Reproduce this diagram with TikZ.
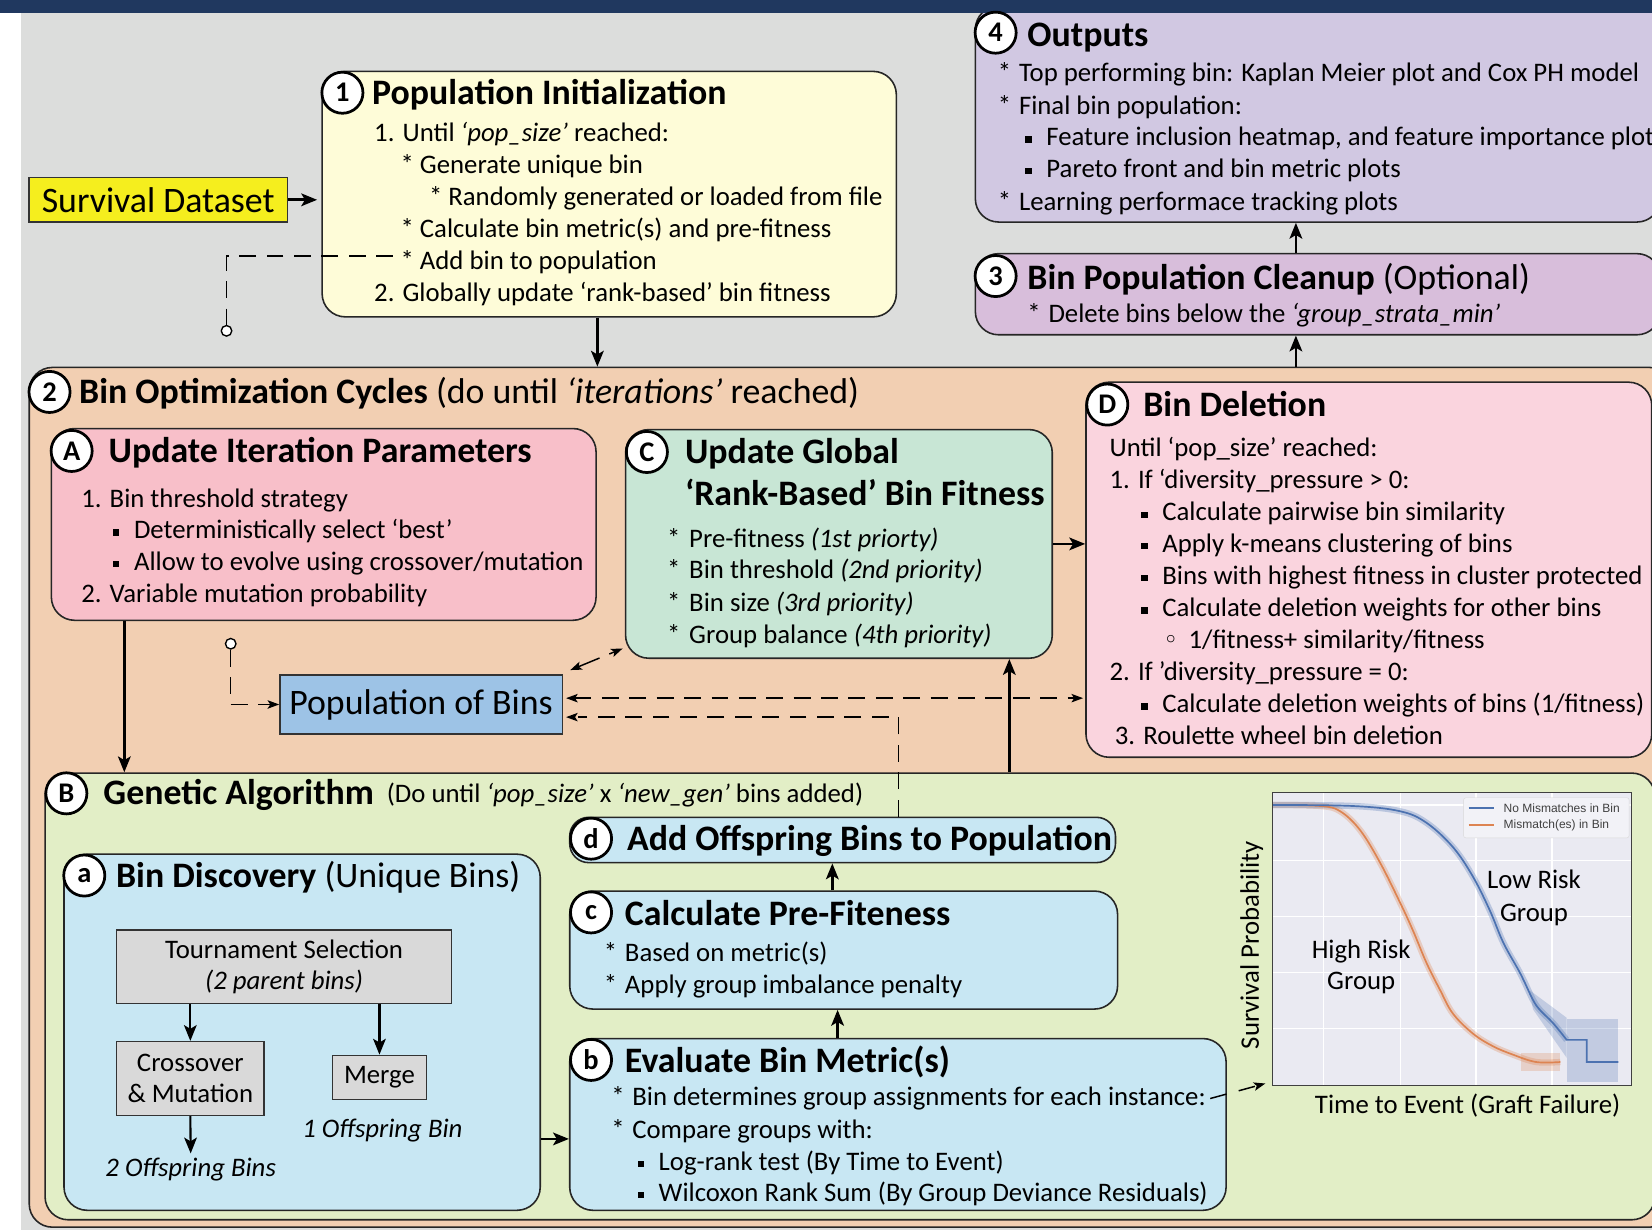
\documentclass[tikz,border=0pt]{standalone}
\usepackage{fontspec}
\setmainfont{Carlito}
\newfontfamily\legfont{Liberation Sans}
\newfontfamily\djv{DejaVu Sans}
\usetikzlibrary{arrows.meta,calc}
\definecolor{bggray}{HTML}{DCDDDC}
\definecolor{navybar}{HTML}{20385F}
\definecolor{sdyellow}{HTML}{F5EE1E}
\definecolor{pinit}{HTML}{FEFCD8}
\definecolor{peach}{HTML}{F2CFB2}
\definecolor{pinkA}{HTML}{F8BFC9}
\definecolor{mintC}{HTML}{C8E6D5}
\definecolor{pinkD}{HTML}{FAD4DE}
\definecolor{pobblue}{HTML}{9DC3E6}
\definecolor{gagreen}{HTML}{E2EEC6}
\definecolor{lblue}{HTML}{C8E7F3}
\definecolor{graybox}{HTML}{D9D9D9}
\definecolor{lavthree}{HTML}{D8BEDB}
\definecolor{lavfour}{HTML}{D1C8E2}
\definecolor{plotbg}{HTML}{EAEAF2}
\definecolor{kmblue}{HTML}{4C72B0}
\definecolor{kmorange}{HTML}{DD8452}
\newcommand\sqb{\makebox[20pt][l]{\raisebox{3pt}{\rule{6pt}{6pt}}}}
\newcommand\stb{\makebox[20pt][l]{*}}
\begin{document}
\begin{tikzpicture}[x=1pt,y=-1pt,
  box/.style={draw=black!85, line width=1.5pt, rounded corners=22pt, anchor=north west, inner sep=0pt},
  sqbox/.style={draw=black!80, line width=1.3pt, anchor=north west, inner sep=0pt},
  num/.style={circle, draw=black, fill=white, line width=2.6pt, minimum size=39pt, inner sep=0pt, font=\fontsize{27}{27}\selectfont\bfseries},
  txt/.style={anchor=base west, inner sep=0pt, yshift=-8.5pt, font=\fontsize{25.4}{30}\selectfont},
  ttl/.style={anchor=base west, inner sep=0pt, yshift=-11pt, font=\fontsize{34}{38}\selectfont},
  ctxt/.style={anchor=base, inner sep=0pt, yshift=-8.5pt, font=\fontsize{25.4}{30}\selectfont},
  arr/.style={-{Stealth[length=15pt,width=12pt,inset=3.5pt]}, line width=2.6pt},
  darr/.style={-{Stealth[length=11pt,width=8pt,inset=2.5pt]}, line width=1.4pt, dash pattern=on 16pt off 10pt},
  dline/.style={line width=1.4pt, dash pattern=on 16pt off 10pt},
  knob/.style={circle, draw=black, fill=white, line width=1.3pt, minimum size=10pt, inner sep=0pt}
]
\useasboundingbox (0,0) rectangle (1568,1167);
\clip (0,0) rectangle (1568,1167);
\fill[white] (0,0) rectangle (1568,1167);
\fill[bggray] (20,0) rectangle (1568,1167);

% x/y helper coordinates
\coordinate (x118) at (118,0);
\coordinate (x567) at (567,0);
\coordinate (x790) at (790,0);
\coordinate (x795) at (795,0);
\coordinate (x853) at (853,0);
\coordinate (x958) at (958,0);
\coordinate (x1230) at (1230,0);
\coordinate (y1081) at (0,1081);

% ---------- Outputs (4) and cleanup (3)
\node[box, fill=lavfour, minimum width=650pt, minimum height=205pt] (bx4) at (925,5) {};
\node[box, fill=lavthree, minimum width=650pt, minimum height=77pt] (bx3) at (925,240) {};
\fill[navybar] (0,0) rectangle (1568,12);
\node[num] (n4) at (945,31) {4};
\node[ttl] (t4) at (975,33) {\textbf{Outputs}};
\node[txt] (o1) at (947,69) {\stb Top performing bin: Kaplan Meier plot and Cox PH model};
\node[txt] (o2) at (947,100) {\stb Final bin population:};
\node[txt] (o3) at (973,130) {\sqb Feature inclusion heatmap, and feature importance plot};
\node[txt] (o4) at (973,160) {\sqb Pareto front and bin metric plots};
\node[txt] (o5) at (947,191) {\stb Learning performace tracking plots};
\node[num] (n3) at (945,262) {3};
\node[ttl] (t3) at (975,264) {\textbf{Bin Population Cleanup} (Optional)};
\node[txt] (c1) at (975,298) {\stb Delete bins below the \textit{‘group\_strata\_min’}};

% ---------- Survival dataset & population initialization
\node[sqbox, fill=sdyellow, minimum width=245pt, minimum height=42pt, font=\fontsize{34}{38}\selectfont] (sd) at (27,168) {Survival Dataset};
\node[box, fill=pinit, minimum width=545pt, minimum height=233pt] (p1) at (305,67) {};
\node[num] (n1) at (325,88) {1};
\node[ttl] (t1) at (353,88) {\textbf{Population Initialization}};
\node[txt] (p1a) at (355,126) {1. Until \textit{‘pop\_size’} reached:};
\node[txt] (p1b) at (380,156) {* Generate unique bin};
\node[txt] (p1c) at (407,187) {* Randomly generated or loaded from file};
\node[txt] (p1d) at (380,217) {* Calculate bin metric(s) and pre-fitness};
\node[txt] (p1e) at (380,247) {* Add bin to population};
\node[txt] (p1f) at (355,278) {2. Globally update ‘rank-based’ bin fitness};
\coordinate (d1s) at (373,243);
\node[knob] (knobA) at (215,314) {};

% ---------- Box 2
\node[box, fill=peach, minimum width=1560pt, minimum height=816pt] (bx2) at (27,348) {};
\node[num] (n2) at (47,372) {2};
\node[ttl] (t2) at (75,372) {\textbf{Bin Optimization Cycles} (do until \textit{‘iterations’} reached)};

% Box A
\node[box, fill=pinkA, minimum width=517pt, minimum height=182pt] (bA) at (48,406) {};
\node[num] (nA) at (68,428) {A};
\node[ttl] (tA) at (103,428) {\textbf{Update Iteration Parameters}};
\node[txt] (a1) at (77,473) {1. Bin threshold strategy};
\node[txt] (a2) at (107,503) {\sqb Deterministically select ‘best’};
\node[txt] (a3) at (107,533) {\sqb Allow to evolve using crossover/mutation};
\node[txt] (a4) at (77,563) {2. Variable mutation probability};

% Box C
\node[box, fill=mintC, minimum width=405pt, minimum height=217pt] (bC) at (593,407) {};
\node[num] (nC) at (614,429) {C};
\node[ttl] (tC1) at (650,429) {\textbf{Update Global}};
\node[ttl] (tC2) at (650,469) {\textbf{‘Rank-Based’ Bin Fitness}};
\node[txt] (cc1) at (633,511) {\makebox[21pt][l]{*}Pre-fitness \textit{(1st priorty)}};
\node[txt] (cc2) at (633,541) {\makebox[21pt][l]{*}Bin threshold \textit{(2nd priority)}};
\node[txt] (cc3) at (633,572) {\makebox[21pt][l]{*}Bin size \textit{(3rd priority)}};
\node[txt] (cc4) at (633,602) {\makebox[21pt][l]{*}Group balance \textit{(4th priority)}};

% Box D
\node[box, fill=pinkD, minimum width=537pt, minimum height=356pt] (bD) at (1030,362) {};
\node[num] (nD) at (1051,384) {D};
\node[ttl] (tD) at (1085,384) {\textbf{Bin Deletion}};
\node[txt] (d1) at (1053,425) {Until ‘pop\_size’ reached:};
\node[txt] (d2) at (1053,455) {1. If ‘diversity\_pressure > 0:};
\node[txt] (d3) at (1083,486) {\sqb Calculate pairwise bin similarity};
\node[txt] (d4) at (1083,516) {\sqb Apply k-means clustering of bins};
\node[txt] (d5) at (1083,546) {\sqb Bins with highest fitness in cluster protected};
\node[txt] (d6) at (1083,577) {\sqb Calculate deletion weights for other bins};
\node[txt] (d7) at (1104,607) {\makebox[24pt][l]{{\djv\fontsize{24}{24}\selectfont ◦}}1/fitness+ similarity/fitness};
\node[txt] (d8) at (1053,637) {2. If ’diversity\_pressure = 0:};
\node[txt] (d9) at (1083,668) {\sqb Calculate deletion weights of bins (1/fitness)};
\node[txt] (d10) at (1058,698) {3. Roulette wheel bin deletion};

% Population of bins
\node[sqbox, fill=pobblue, minimum width=268pt, minimum height=56pt, font=\fontsize{34}{38}\selectfont] (pob) at (265,640) {Population of Bins};
\node[knob] (knobB) at (219,611) {};

% ---------- Box B
\node[box, fill=gagreen, minimum width=1528pt, minimum height=424pt] (bB) at (42,733) {};
\node[num] (nB) at (63,753) {B};
\node[ttl] (tB) at (98,753) {\textbf{Genetic Algorithm}};
\node[txt] (tBs) at (367,753) {(Do until \textit{‘pop\_size’} x \textit{‘new\_gen’} bins added)};

% Box a
\node[box, fill=lblue, minimum width=452pt, minimum height=338pt] (ba) at (60,810) {};
\node[num] (na) at (80,831) {a};
\node[ttl] (ta) at (110,831) {\textbf{Bin Discovery} (Unique Bins)};
\node[sqbox, fill=graybox, minimum width=318pt, minimum height=70pt, align=center, font=\fontsize{25.4}{30}\selectfont] (ts) at (110,882) {Tournament Selection\\\textit{(2 parent bins)}};
\node[sqbox, fill=graybox, minimum width=140pt, minimum height=70pt, align=center, font=\fontsize{25.4}{30}\selectfont] (cm) at (110,988) {Crossover\\\& Mutation};
\node[sqbox, fill=graybox, minimum width=89pt, minimum height=42pt, font=\fontsize{25.4}{30}\selectfont] (mg) at (315,1001) {Merge};
\node[ctxt] (off2) at (181,1108) {\textit{2 Offspring Bins}};
\node[ctxt] (off1) at (363,1071) {\textit{1 Offspring Bin}};

% Boxes d, c, b
\node[box, rounded corners=18pt, fill=lblue, minimum width=518pt, minimum height=43pt] (bd) at (540,775) {};
\node[num] (nd) at (561,796) {d};
\node[ttl] (td) at (595,796) {\textbf{Add Offspring Bins to Population}};
\node[box, fill=lblue, minimum width=520pt, minimum height=112pt] (bc) at (540,845) {};
\node[num] (nc) at (561,866) {c};
\node[ttl] (tc) at (593,867) {\textbf{Calculate Pre-Fiteness}};
\node[txt] (bc1) at (573,904) {\stb Based on metric(s)};
\node[txt] (bc2) at (573,934) {\stb Apply group imbalance penalty};
\node[box, fill=lblue, minimum width=623pt, minimum height=163pt] (bb) at (540,985) {};
\node[num] (nb) at (561,1006) {b};
\node[ttl] (tb) at (593,1007) {\textbf{Evaluate Bin Metric(s)}};
\node[txt] (bb1) at (580,1041) {\stb Bin determines group assignments for each instance:};
\node[txt] (bb2) at (580,1072) {\stb Compare groups with:};
\node[txt] (bb3) at (605,1102) {\sqb Log-rank test (By Time to Event)};
\node[txt] (bb4) at (605,1132) {\sqb Wilcoxon Rank Sum (By Group Deviance Residuals)};

% ---------- KM plot
\node[anchor=north west, inner sep=0pt, fill=plotbg, minimum width=340pt, minimum height=278pt] (plot) at (1208,752) {};
\foreach \gx in {1256,1329,1401,1473} \draw[white, line width=1.3pt] (\gx,752) -- (\gx,1030);
\foreach \gy in {764,817,870,923,976} \draw[white, line width=1.3pt] (1208,\gy) -- (1548,\gy);
% bands
\draw[kmorange, opacity=0.3, line width=6pt] plot[smooth, tension=0.6] coordinates {(1208,764) (1253,765) (1272,770) (1291,788) (1310,819) (1329,857) (1341,883) (1354,914) (1367,940) (1379,962) (1398,981) (1417,993) (1436,1001) (1458,1008) (1481,1008)};
\fill[kmorange, opacity=0.25] (1444,999) rectangle (1481,1017);
\draw[kmblue, opacity=0.3, line width=6pt] plot[smooth, tension=0.6] coordinates {(1208,764) (1284,765) (1329,770) (1354,781) (1379,804) (1398,832) (1414,864) (1427,895) (1443,924) (1455,949) (1462,959) (1474,971) (1487,987)};
\fill[kmblue, opacity=0.25] (1452,940) -- (1487,966) -- (1487,1004) -- (1455,958) -- cycle;
\fill[kmblue, opacity=0.25] (1487,967) rectangle (1536,1027);
% curves
\draw[kmorange, line width=1.6pt] plot[smooth, tension=0.6] coordinates {(1208,764) (1253,765) (1272,770) (1291,788) (1310,819) (1329,857) (1341,883) (1354,914) (1367,940) (1379,962) (1398,981) (1417,993) (1436,1001) (1458,1008) (1481,1008)};
\draw[kmblue, line width=1.6pt] plot[smooth, tension=0.6] coordinates {(1208,764) (1284,765) (1329,770) (1354,781) (1379,804) (1398,832) (1414,864) (1427,895) (1443,924) (1455,949) (1462,959) (1474,971) (1487,987)} -- (1506,987) -- (1506,1008) -- (1536,1008);
\draw[black!75, line width=1.2pt] (plot.north west) rectangle (plot.south east);
% legend
\node[anchor=north west, inner sep=0pt, fill=plotbg!60!white, draw=black!15, rounded corners=2pt, minimum width=157pt, minimum height=38pt] (leg) at (1389,757) {};
\draw[kmblue, line width=1.5pt] (1394,767) -- (1418,767);
\draw[kmorange, line width=1.5pt] (1394,783) -- (1418,783);
\node[anchor=west, inner sep=0pt, font=\legfont\fontsize{11.4}{12}\selectfont, text=black!75] (lg1) at (1427,767) {No Mismatches in Bin};
\node[anchor=west, inner sep=0pt, font=\legfont\fontsize{11.4}{12}\selectfont, text=black!75] (lg2) at (1427,783) {Mismatch(es) in Bin};
\node[ctxt] (lr1) at (1456,835) {Low Risk};
\node[ctxt] (lr2) at (1456,866) {Group};
\node[ctxt] (hr1) at (1292,901) {High Risk};
\node[ctxt] (hr2) at (1292,931) {Group};
\node[rotate=90, inner sep=0pt, font=\fontsize{25.4}{30}\selectfont] (ylab) at (1188,897) {Survival Probability};
\node[ctxt] (xlab) at (1393,1048) {Time to Event (Graft Failure)};

% ---------- connectors
\draw[arr] (sd.east) -- ([xshift=-4pt]p1.west |- sd.east);
\draw[arr] (p1.south -| x567) -- (bx2.north -| x567);
\draw[arr] (bx2.north -| x1230) -- (bx3.south -| x1230);
\draw[arr] (bx3.north -| x1230) -- (bx4.south -| x1230);
\draw[arr] (bA.south -| x118) -- (bB.north -| x118);
\draw[arr] (bC.east) -- (bD.west |- bC.east);
\draw[arr] (bB.north -| x958) -- (bC.south -| x958);
\draw[arr] (bc.north -| x790) -- (bd.south -| x790);
\draw[arr] (bb.north -| x795) -- (bc.south -| x795);
\draw[arr] (ba.east |- y1081) -- (bb.west |- y1081);
\draw[arr, line width=2pt] (ts.south -| cm.north) -- (cm.north);
\draw[arr, line width=2pt] (ts.south -| mg.north) -- (mg.north);
\draw[arr, line width=2pt] (cm.south) -- ([yshift=4pt]off2.north);
% dashed
\draw[dline] (d1s) -| (knobA.north);
\draw[darr] (knobB.south) |- (pob.west);
\draw[darr, {Stealth[length=11pt,width=8pt,inset=2.5pt]}-{Stealth[length=11pt,width=8pt,inset=2.5pt]}, dash pattern=on 22pt off 10pt] ([shift={(7,-4)}]pob.north east) -- ([shift={(-2,-10)}]bC.south west);
\coordinate (pobE1) at ([yshift=6pt]pob.east);
\coordinate (pobE2) at ([yshift=-12pt]pob.east);
\draw[darr, {Stealth[length=11pt,width=8pt,inset=2.5pt]}-{Stealth[length=11pt,width=8pt,inset=2.5pt]}] ([xshift=3pt]pobE1) -- ([xshift=-2pt]bD.west |- pobE1);
\draw[darr, -] (bd.north -| x853) |- ([xshift=14pt]pobE2);
\draw[darr, dash pattern=on 0pt off 20pt] ([xshift=16pt]pobE2) -- ([xshift=3pt]pobE2);
\draw[darr, dash pattern=on 16pt off 12pt] ([xshift=4pt]bb1.east) -- ([shift={(-7,-2)}]plot.south west);
\end{tikzpicture}
\end{document}
